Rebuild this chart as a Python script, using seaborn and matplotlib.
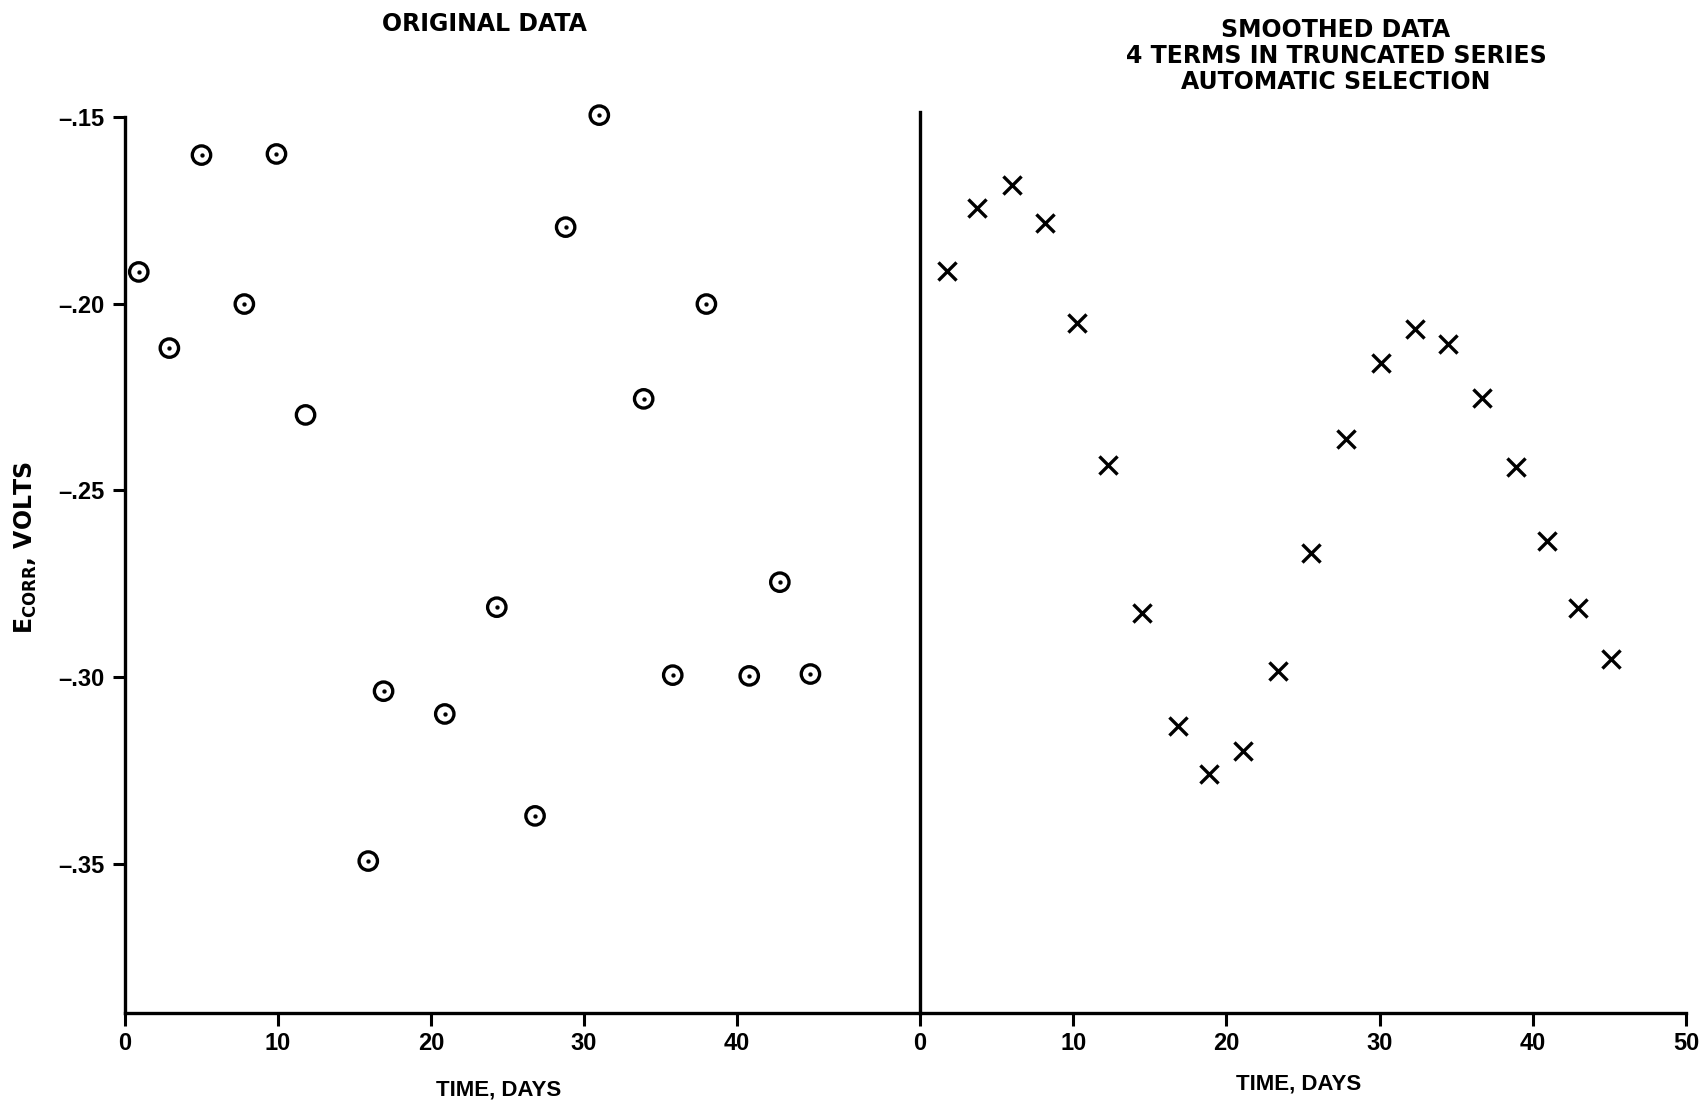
import matplotlib
matplotlib.use("Agg")
import matplotlib.pyplot as plt
import seaborn as sns
import pandas as pd

# -----------------------------
# data
# -----------------------------
orig_days = [0.9, 2.9, 5.0, 7.8, 9.9, 11.8, 15.9, 16.9, 20.9, 24.3, 26.8,
             28.8, 31.0, 33.9, 35.8, 38.0, 40.8, 42.8, 44.8]
orig_volts = [-0.1915, -0.2119, -0.1602, -0.2001, -0.1599, -0.2298, -0.3493,
              -0.3038, -0.3099, -0.2813, -0.3372, -0.1795, -0.1495, -0.2255,
              -0.2995, -0.2001, -0.2997, -0.2746, -0.2992]
# the circle at day ~12 has no centre dot
orig_dot = [True] * 5 + [False] + [True] * 13

smooth_days = [1.76, 3.72, 6.0, 8.16, 10.25, 12.27, 14.49, 16.84, 18.86, 21.08,
               23.37, 25.52, 27.81, 30.09, 32.31, 34.46, 36.68, 38.90, 40.93,
               42.95, 45.10]
smooth_volts = [-0.1913, -0.1744, -0.1682, -0.1784, -0.2052, -0.2432, -0.2829,
                -0.3131, -0.3260, -0.3198, -0.2984, -0.2668, -0.2363, -0.2159,
                -0.2068, -0.2108, -0.2253, -0.2438, -0.2636, -0.2815, -0.2952]

left_xticks = [0, 10, 20, 30, 40]
right_xticks = [0, 10, 20, 30, 40, 50]
yticks = [-0.15, -0.20, -0.25, -0.30, -0.35]
ytick_labels = ["\u2013.15", "\u2013.20", "\u2013.25", "\u2013.30", "\u2013.35"]

df_orig = pd.DataFrame({"day": orig_days, "volts": orig_volts, "dot": orig_dot})
df_smooth = pd.DataFrame({"day": smooth_days, "volts": smooth_volts})

# -----------------------------
# style
# -----------------------------
sns.set_theme(style="white")
plt.rcParams["font.family"] = ["Liberation Sans", "DejaVu Sans"]
plt.rcParams["font.weight"] = "bold"
plt.rcParams["mathtext.fontset"] = "custom"
plt.rcParams["mathtext.rm"] = "DejaVu Sans:bold"
for key in ("text.color", "axes.labelcolor", "xtick.color", "ytick.color",
            "axes.edgecolor"):
    plt.rcParams[key] = "black"
TITLE_FONT = ["DejaVu Sans"]

W, H = 1702, 1107
fig = plt.figure(figsize=(W / 100, H / 100), dpi=100)

# pixel frame: x=0 of each panel, y=-0.15 at 117 px, y=-0.39 at 1013 px
px_per_volt = (1013 - 117) / 0.24
ybot = -0.390
ytop = -0.1487
x0_px, xmid_px, xend_px = 125, 920, 1686
ybot_px = 1013
ytop_px = 117 - (ytop + 0.15) * px_per_volt
bottom = 1 - ybot_px / H
height = (ybot_px - ytop_px) / H
ax1 = fig.add_axes([x0_px / W, bottom, (xmid_px - x0_px) / W, height])
ax2 = fig.add_axes([xmid_px / W, bottom, (xend_px - xmid_px) / W, height])

LW = 2.4

# left: original data, circles with a centre dot
sns.scatterplot(data=df_orig, x="day", y="volts", ax=ax1, marker="o", s=175,
                facecolors="none", edgecolor="black", linewidth=2.4,
                clip_on=False, legend=False)
sns.scatterplot(data=df_orig[df_orig["dot"]], x="day", y="volts", ax=ax1,
                marker="o", s=8, color="black", edgecolor="black",
                clip_on=False, legend=False)
ax1.collections[0].set_facecolor("none")

# right: smoothed data, crosses
sns.scatterplot(data=df_smooth, x="day", y="volts", ax=ax2, marker="x", s=170,
                color="black", linewidth=2.4, clip_on=False, legend=False)

ax1.set_xlim(0, (xmid_px - x0_px) / 15.3)
ax2.set_xlim(0, 50)
for ax in (ax1, ax2):
    ax.set_ylim(ybot, ytop)
    ax.set_xlabel("")
    ax.set_ylabel("")
    ax.set_facecolor("none")
    for side in ("top", "right"):
        ax.spines[side].set_visible(False)
    for side in ("left", "bottom"):
        ax.spines[side].set_color("black")
        ax.spines[side].set_linewidth(LW)
    ax.tick_params(axis="x", direction="out", length=9, width=2.2,
                   color="black", labelcolor="black", labelsize=17, pad=5,
                   bottom=True)
    ax.grid(False)

ax1.set_xticks(left_xticks)
ax1.set_xticklabels([str(t) for t in left_xticks])
ax1.set_yticks(yticks)
ax1.set_yticklabels(ytick_labels)
ax1.tick_params(axis="y", direction="out", length=9, width=2.2,
                color="black", labelcolor="black", labelsize=17, pad=6,
                left=True)
ax1.spines["left"].set_bounds(ybot, -0.150)

ax2.set_xticks(right_xticks)
ax2.set_xticklabels([str(t) for t in right_xticks])
ax2.set_yticks([])

# titles and labels
fig.text(484 / W, 1 - 24 / H, "ORIGINAL DATA", ha="center", va="center",
         fontsize=17, fontweight="bold", family=TITLE_FONT, color="black")
fig.text(1336 / W, 1 - 56 / H,
         "SMOOTHED DATA\n4 TERMS IN TRUNCATED SERIES\nAUTOMATIC SELECTION",
         ha="center", va="center", fontsize=17, fontweight="bold",
         linespacing=1.1, family=TITLE_FONT, color="black")
fig.text(499 / W, 1 - 1090 / H, "TIME, DAYS", ha="center", va="center",
         fontsize=16, fontweight="bold", color="black")
fig.text(1299 / W, 1 - 1084 / H, "TIME, DAYS", ha="center", va="center",
         fontsize=16, fontweight="bold", color="black")
fig.text(26 / W, 1 - 548 / H, r"E$_{\mathrm{CORR}}$, VOLTS", ha="center",
         va="center", rotation=90, fontsize=17, fontweight="bold",
         family=TITLE_FONT, color="black")

plt.savefig("out.png", dpi=100, facecolor="white")
plt.close()
